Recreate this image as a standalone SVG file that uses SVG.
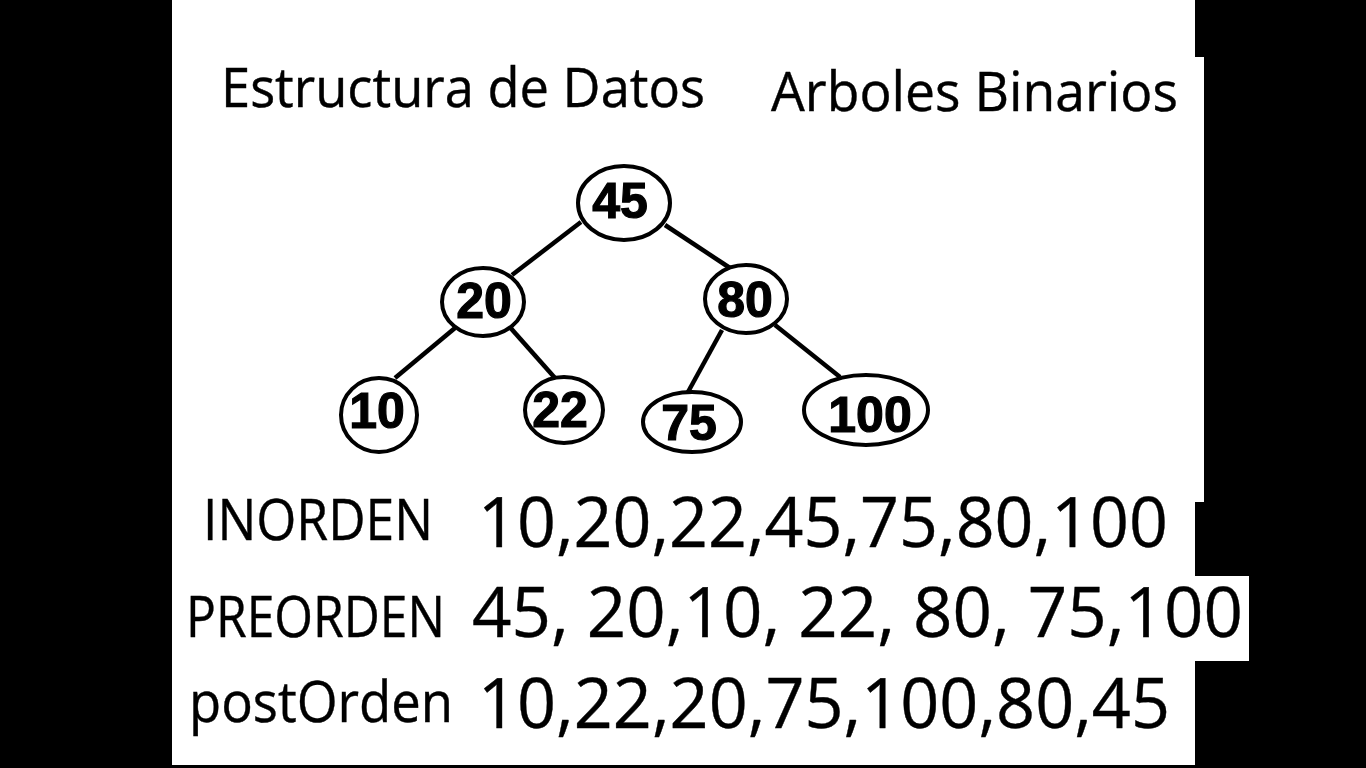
<svg xmlns="http://www.w3.org/2000/svg" width="1366" height="768" viewBox="0 0 1366 768">
<style>
.node ellipse{fill:#fff;stroke:#000;stroke-width:4}
.node text{font-family:"Liberation Sans",Arial,sans-serif;font-weight:bold;font-size:50px;fill:#000;stroke:#000;stroke-width:1.2;text-anchor:middle}
.edges line{stroke:#000;stroke-width:4.5;stroke-linecap:butt}
.t{font-family:"Open Sans","Liberation Sans",sans-serif;fill:#000;stroke:#000;stroke-width:0.4}
</style>
<rect x="0" y="0" width="1366" height="768" fill="#000"/>
<path d="M172 0H1195V57H1204V502H1195V576H1249V661H1195V765H172Z" fill="#fff"/>
<text class="t" x="221" y="107" font-size="54" textLength="484" lengthAdjust="spacingAndGlyphs">Estructura de Datos</text>
<text class="t" x="771" y="111" font-size="54" textLength="407" lengthAdjust="spacingAndGlyphs">Arboles Binarios</text>
<g class="edges">
<line x1="581" y1="222" x2="512" y2="275"/>
<line x1="665" y1="225" x2="730" y2="268"/>
<line x1="455" y1="328" x2="395" y2="378"/>
<line x1="508" y1="325" x2="555" y2="378"/>
<line x1="722" y1="330" x2="688" y2="392"/>
<line x1="775" y1="325" x2="840" y2="377"/>
</g>
<g id="n45" class="node"><ellipse cx="624" cy="203" rx="46" ry="37"/><text x="620" y="218">45</text></g>
<g id="n20" class="node"><ellipse cx="483" cy="302" rx="41" ry="34"/><text x="484" y="318">20</text></g>
<g id="n80" class="node"><ellipse cx="746" cy="299" rx="41" ry="34"/><text x="745" y="317">80</text></g>
<g id="n10" class="node"><ellipse cx="379" cy="415" rx="38" ry="37"/><text x="377" y="428">10</text></g>
<g id="n22" class="node"><ellipse cx="564" cy="410" rx="39" ry="33"/><text x="560" y="427">22</text></g>
<g id="n75" class="node"><ellipse cx="692" cy="422" rx="49" ry="30"/><text x="689" y="440">75</text></g>
<g id="n100" class="node"><ellipse cx="866" cy="410" rx="62" ry="35"/><text x="870" y="432">100</text></g>
<text class="t" x="203" y="540" font-size="56" textLength="230" lengthAdjust="spacingAndGlyphs">INORDEN</text>
<text class="t" x="478" y="547" font-size="70" textLength="690" lengthAdjust="spacingAndGlyphs">10,20,22,45,75,80,100</text>
<text class="t" x="186" y="637" font-size="56" textLength="259" lengthAdjust="spacingAndGlyphs">PREORDEN</text>
<text class="t" x="472" y="637" font-size="70" textLength="771" lengthAdjust="spacingAndGlyphs">45, 20,10, 22, 80, 75,100</text>
<text class="t" x="189" y="722" font-size="56" textLength="264" lengthAdjust="spacingAndGlyphs">postOrden</text>
<text class="t" x="478" y="728" font-size="70" textLength="692" lengthAdjust="spacingAndGlyphs">10,22,20,75,100,80,45</text>
</svg>
